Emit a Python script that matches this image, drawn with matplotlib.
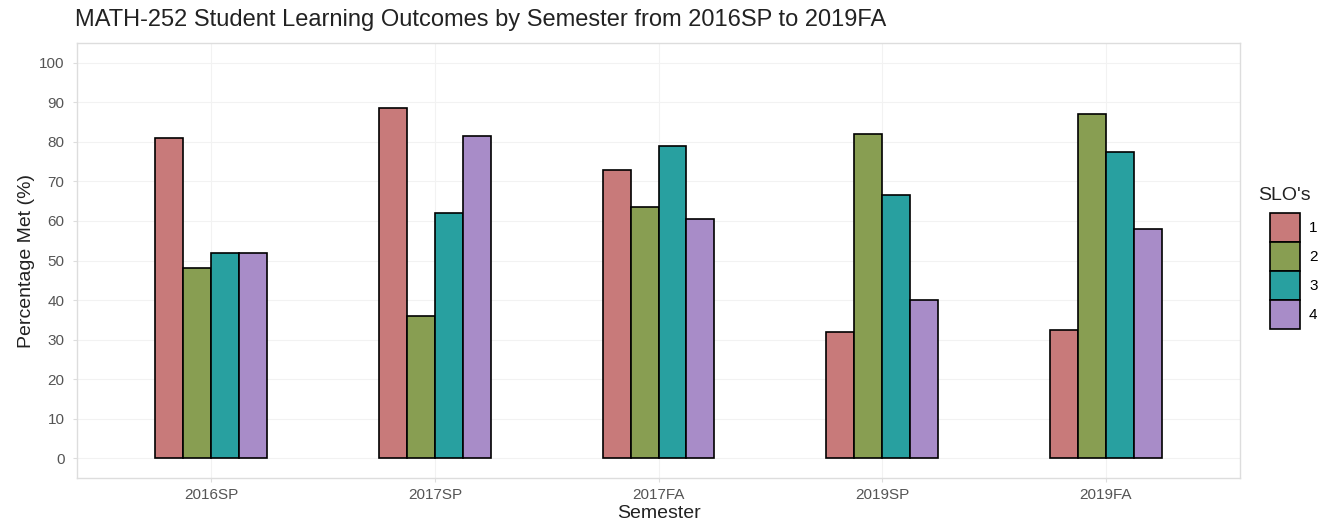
import matplotlib.pyplot as plt
import numpy as np

semesters = ['2016SP', '2017SP', '2017FA', '2019SP', '2019FA']
slo_labels = ['1', '2', '3', '4']
slo1 = [81, 88.5, 73, 32, 32.5]
slo2 = [48, 36, 63.5, 82, 87]
slo3 = [52, 62, 79, 66.5, 77.5]
slo4 = [52, 81.5, 60.5, 40, 58]
colors = ['#C87A7A', '#889E52', '#28A0A0', '#A88CC8']

plt.rcParams['font.family'] = ['Liberation Sans', 'DejaVu Sans']

W, H = 1336, 527
fig = plt.figure(figsize=(W / 100, H / 100), dpi=100)
ax = fig.add_axes([77 / W, 1 - 478 / H, (1240 - 77) / W, (478 - 43) / H])

x = np.arange(1, len(semesters) + 1)
width = 0.125
series = [slo1, slo2, slo3, slo4]
for i, vals in enumerate(series):
    offset = (i - 1.5) * width
    ax.bar(x + offset, vals, width=width, color=colors[i], edgecolor='black',
           linewidth=1.2, label=slo_labels[i], zorder=3)

ax.set_xlim(0.4, 5.6)
ax.set_ylim(-5, 105)
ax.set_yticks(range(0, 101, 10))
ax.set_xticks(x)
ax.set_xticklabels(semesters)
ax.grid(True, color='#F2F2F2', linewidth=0.8, zorder=0)
ax.set_axisbelow(True)
for s in ax.spines.values():
    s.set_color('#DDDDDD')
    s.set_linewidth(1.0)
ax.tick_params(axis='both', colors='#DDDDDD', labelcolor='#555555', labelsize=11, length=3, pad=4)
ax.tick_params(axis='y', pad=6)

ax.set_xlabel('Semester', fontsize=14, color='#222222', labelpad=2)
ax.set_ylabel('Percentage Met (%)', fontsize=14, color='#222222', labelpad=3)
fig.text(75 / W, 1 - 20 / H, 'MATH-252 Student Learning Outcomes by Semester from 2016SP to 2019FA',
         fontsize=17, color='#222222', va='center', ha='left')

# legend keys plus a separate title so the title can sit left of the keys
ax.legend(loc='upper left', bbox_to_anchor=(1270 / W, 1 - 213 / H), bbox_transform=fig.transFigure,
          frameon=False, borderpad=0, borderaxespad=0, fontsize=11,
          handlelength=1.95, handleheight=2.55, handletextpad=0.6, labelspacing=0.0)
fig.text(1258 / W, 1 - 196 / H, "SLO's", fontsize=14, color='#222222', va='center', ha='left')

fig.savefig('out.png', dpi=100)
